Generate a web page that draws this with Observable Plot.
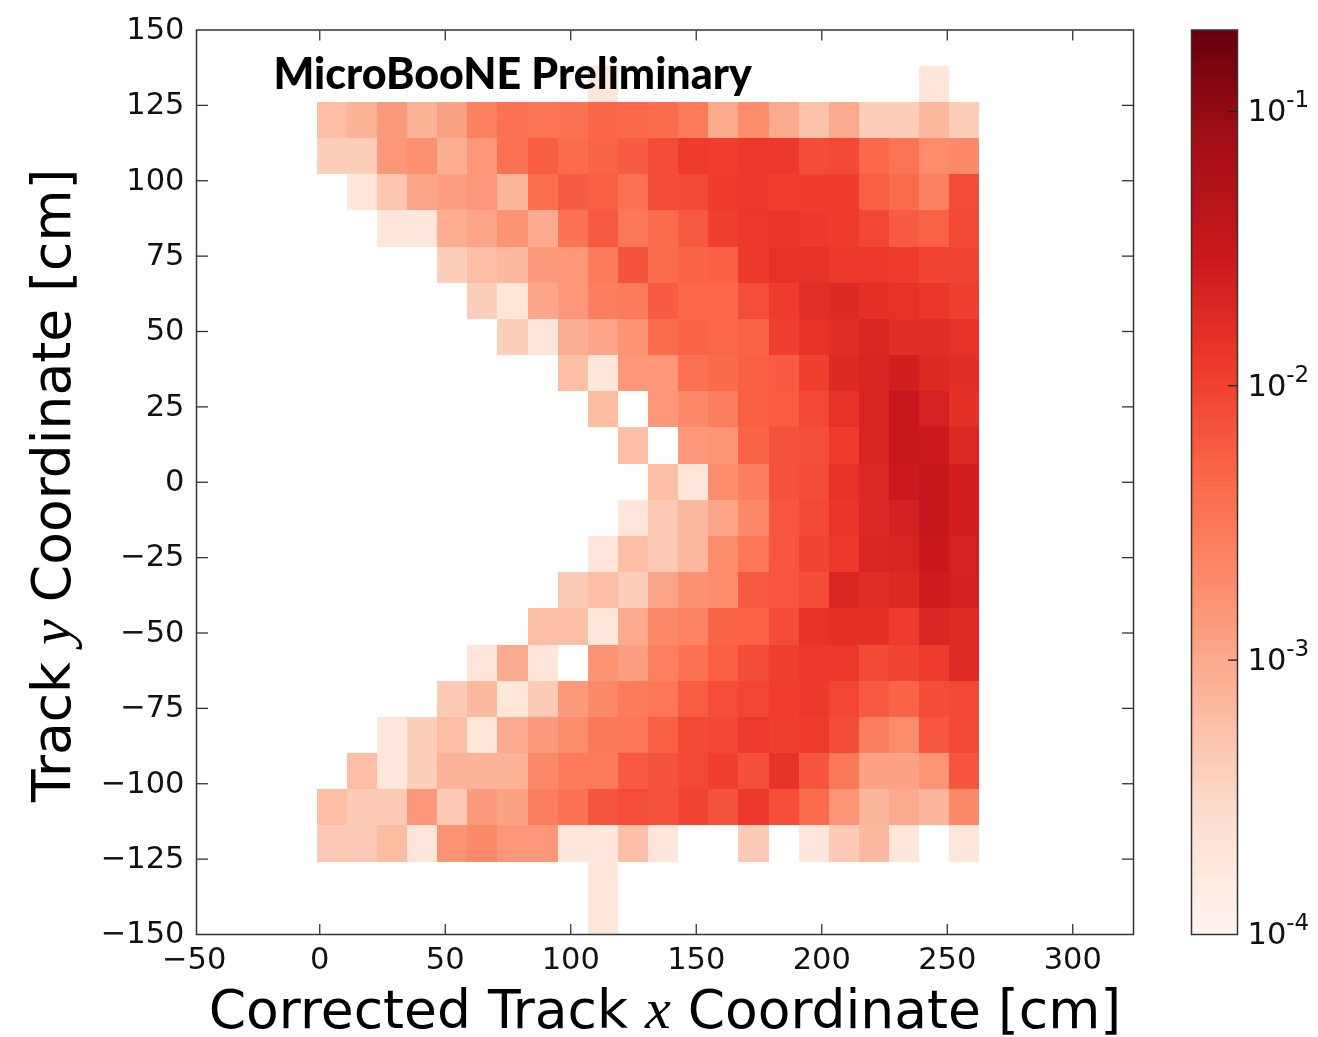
<!DOCTYPE html>
<html>
<head>
<meta charset="utf-8">
<script src="https://cdn.jsdelivr.net/npm/d3@7"></script>
<script src="https://cdn.jsdelivr.net/npm/@observablehq/plot@0.6"></script>
<style>
html,body{margin:0;padding:0;background:#fff}
#chart{position:relative;width:1318px;height:1037px;overflow:hidden}
#chart svg{position:absolute;top:0;background:transparent;max-width:none;filter:blur(0.5px)}
</style>
</head>
<body>
<div id="chart"></div>
<script>
// Bin density in units of 1e-4; 0 = empty bin. Each row is named after its upper y edge (cm).
const row138 = [0,0,0,0,0,0,0,0,0,2,0,0,0,0,0,0,0,0,0,0,2,0];
const row126 = [6,8,14,8,12,26,38,35,38,48,45,42,30,10,20,10,5.5,10,4,4,7,4];
const row114 = [4,4,15,18,9,15,38,58,42,50,60,80,115,110,120,125,82,85,45,34,20,21];
const row102 = [0,2,5,11,13,15,7.5,40,60,55,36,80,85,115,120,110,112,112,55,42,26,82];
const row90  = [0,0,2,2,9,11,17,10,36,62,32,42,62,105,125,140,120,115,90,60,52,85];
const row78  = [0,0,0,0,4,6,7,14,15,30,72,42,50,54,120,150,150,125,125,115,95,95];
const row66  = [0,0,0,0,0,4,2,11,15,28,30,60,45,46,78,115,160,180,155,150,130,105];
const row54  = [0,0,0,0,0,0,4,2,9,11,17,42,50,46,50,105,145,165,205,165,170,145];
const row42  = [0,0,0,0,0,0,0,0,6,2,15,15,38,44,56,60,105,180,210,255,185,165];
const row30  = [0,0,0,0,0,0,0,0,0,6.5,0,15,21,28,56,58,88,150,215,320,230,155];
const row18  = [0,0,0,0,0,0,0,0,0,0,6,0,15,16,50,72,75,115,215,320,290,190];
const row6   = [0,0,0,0,0,0,0,0,0,0,0,6,2,19,28,70,82,145,190,290,350,250];
const rowM6  = [0,0,0,0,0,0,0,0,0,0,2,4.5,7,11,21,65,85,135,190,240,350,250];
const rowM18 = [0,0,0,0,0,0,0,0,0,2,6,4.5,7,19,33,65,95,120,195,215,300,235];
const rowM30 = [0,0,0,0,0,0,0,0,4.5,6,4,11,18,20,62,65,80,195,170,185,265,240];
const rowM42 = [0,0,0,0,0,0,0,6,6,2,10,21,24,50,52,82,145,155,155,118,200,175];
const rowM54 = [0,0,0,0,0,2,10,2,0,17,13,27,36,56,80,105,125,125,85,95,118,175];
const rowM66 = [0,0,0,0,4.5,7,2,4.5,14,21,30,33,58,78,92,110,122,92,62,50,82,88];
const rowM78 = [0,0,2,4,6,2,10,14,20,32,33,56,85,90,118,105,115,80,28,20,65,85];
const rowM90 = [0,6,2,4,8,8,8,21,30,30,62,70,85,105,75,145,66,32,11.5,11.5,16,66];
const rowM102 = [6,4.5,4.5,15,4.5,14,12,28,36,68,78,72,98,72,120,78,42,16,7.5,10,7.5,21];
const rowM114 = [4.5,4.5,6.5,2,17,21,15,15,2,2,6,2,0,0,4.5,0,2,4.5,7,2,0,2];
const rowM126 = [0,0,0,0,0,0,0,0,0,2,0,0,0,0,0,0,0,0,0,0,0,0];
const rowM138 = [0,0,0,0,0,0,0,0,0,2,0,0,0,0,0,0,0,0,0,0,0,0];

const rows = [
  [138,row138],[126,row126],[114,row114],[102,row102],[90,row90],[78,row78],[66,row66],[54,row54],
  [42,row42],[30,row30],[18,row18],[6,row6],[-6,rowM6],[-18,rowM18],[-30,rowM30],[-42,rowM42],
  [-54,rowM54],[-66,rowM66],[-78,rowM78],[-90,rowM90],[-102,rowM102],[-114,rowM114],[-126,rowM126],[-138,rowM138]
];
const binStartX = -1;
const binSize = 12;

const xLabelTicks = [-50,0,50,100,150,200,250,300];
const xMarkTicks = [0,50,100,150,200,250,300];
const yLabelTicks = [-150,-125,-100,-75,-50,-25,0,25,50,75,100,125,150];
const yMarkTicks = [-125,-100,-75,-50,-25,0,25,50,75,100,125];
const colorTicks = [1e-4,1e-3,1e-2,1e-1];
const colorTickText = ["10-4","10-3","10-2","10-1"];
const colorMax = 0.198;
const redsStops = ["#fff5f0","#fee0d2","#fcbba1","#fc9272","#fb6a4a","#ef3b2c","#cb181d","#a50f15","#67000d"];

const cells = rows.flatMap(([top, values]) =>
  values.map((v, c) => ({x1: binStartX + c*binSize, x2: binStartX + (c+1)*binSize, y1: top - binSize, y2: top, v: v*1e-4}))
        .filter(d => d.v > 0));

const colorScale = {type:"log", domain:[1e-4,colorMax], interpolate:d3.piecewise(d3.interpolateRgb, redsStops)};
const sans = "'DejaVu Sans', sans-serif";
const ink = "#111";
const minus = d => d < 0 ? "\u2212" + (-d) : String(d);
const tickStyle = {tickFormat:null,label:null,stroke:"#333",strokeWidth:1.3,fill:"none"};

const main = Plot.plot({
  width:1318, height:1037,
  marginLeft:196, marginRight:185, marginTop:29.5, marginBottom:103,
  style:{fontFamily:sans, background:"transparent", color:ink},
  x:{domain:[-49.1,324.2]},
  y:{domain:[-150,150]},
  color:colorScale,
  marks:[
    Plot.rect(cells,{x1:"x1",x2:"x2",y1:"y1",y2:"y2",fill:"v",shapeRendering:"crispEdges"}),
    Plot.frame({stroke:"#333",strokeWidth:1.5}),
    Plot.axisX({anchor:"bottom",ticks:xMarkTicks,tickSize:-10,...tickStyle}),
    Plot.axisX({anchor:"top",ticks:xMarkTicks,tickSize:-10,...tickStyle}),
    Plot.axisY({anchor:"left",ticks:yMarkTicks,tickSize:-12,...tickStyle}),
    Plot.axisY({anchor:"right",ticks:yMarkTicks,tickSize:-12,...tickStyle}),
    Plot.axisX({anchor:"bottom",ticks:xLabelTicks,tickSize:0,tickPadding:13,tickFormat:minus,label:null,fontSize:30.5,fill:ink}),
    Plot.axisY({anchor:"left",ticks:yLabelTicks,tickSize:0,tickPadding:12,tickFormat:minus,label:null,fontSize:30.5,fill:ink,dy:-1}),
    Plot.text(["MicroBooNE Preliminary"],{frameAnchor:"top-left",dx:77,dy:28,textAnchor:"start",lineAnchor:"top",fontFamily:"Lato, sans-serif",fontWeight:900,fontSize:43,fill:"#000"}),
    Plot.text(["Corrected Track x Coordinate [cm]"],{frameAnchor:"bottom",dy:93,lineAnchor:"bottom",fontSize:53.5,fill:"#000"}),
    Plot.text(["Track y Coordinate [cm]"],{frameAnchor:"left",dx:-144,dy:3,textAnchor:"middle",rotate:-90,fontSize:53.5,fill:"#000"})
  ]
});
main.style.left = "0px";

const cbSteps = d3.range(0,160).map(i => {
  const lo = Math.log10(1e-4), hi = Math.log10(colorMax);
  return {y1:10**(lo+(hi-lo)*i/160), y2:10**(lo+(hi-lo)*(i+1)/160)};
});
const colorbar = Plot.plot({
  width:133, height:1037,
  marginLeft:6, marginRight:81, marginTop:29.5, marginBottom:103,
  style:{fontFamily:sans, background:"transparent", color:ink},
  x:{domain:[0,1],axis:null},
  y:{type:"log",domain:[1e-4,colorMax],axis:null},
  color:colorScale,
  marks:[
    Plot.rect(cbSteps,{x1:0,x2:1,y1:"y1",y2:"y2",fill:d=>d.y2,shapeRendering:"crispEdges"}),
    Plot.frame({stroke:"#333",strokeWidth:1.5}),
    Plot.axisY({anchor:"right",ticks:colorTicks.slice(1),tickSize:-10,tickFormat:null,label:null,stroke:"#222",strokeWidth:1.3,fill:"none"}),
    Plot.axisY({anchor:"right",ticks:colorTicks,tickSize:0,tickPadding:10,tickFormat:d=>colorTickText[colorTicks.indexOf(d)],label:null,fontSize:30.5,fill:ink,textAnchor:"start"})
  ]
});
colorbar.style.left = "1185px";

const root = document.getElementById("chart");
root.append(main, colorbar);

// Typeset the math-mode letter in the axis titles and the colour bar exponents.
const NS = "http://www.w3.org/2000/svg";
function rich(el, parts){
  el.textContent = "";
  for (const [txt, attrs] of parts){
    const s = document.createElementNS(NS,"tspan");
    s.textContent = txt;
    for (const k in attrs) s.setAttribute(k, attrs[k]);
    el.appendChild(s);
  }
}
const mathStyle = {"font-family":"'Liberation Serif', serif","font-style":"italic","font-size":"58"};
root.querySelectorAll("text").forEach(el => {
  const t = el.textContent;
  if (t === "Corrected Track x Coordinate [cm]") rich(el,[["Corrected Track ",{}],["x",mathStyle],[" Coordinate [cm]",{}]]);
  else if (t === "Track y Coordinate [cm]") rich(el,[["Track ",{}],["y",mathStyle],[" Coordinate [cm]",{}]]);
  else if (colorTickText.includes(t)) rich(el,[["10",{}],[t.slice(2),{"font-size":"23","dy":"-14"}]]);
});
</script>
</body>
</html>
